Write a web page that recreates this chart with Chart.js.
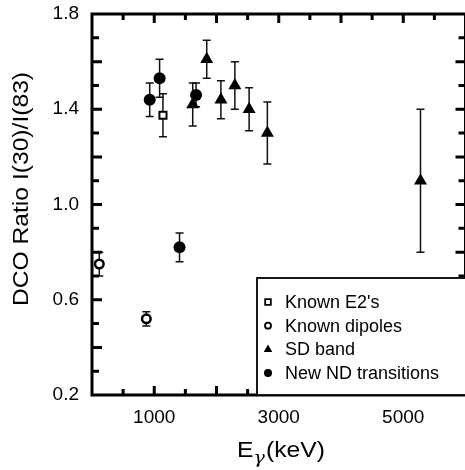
<!DOCTYPE html>
<html>
<head>
<meta charset="utf-8">
<script src="https://cdn.jsdelivr.net/npm/chart.js@4/dist/chart.umd.min.js"></script>
<style>
  html, body { margin: 0; padding: 0; background: #fff; overflow: hidden; }
  canvas { display: block; }
</style>
</head>
<body>
<canvas id="dcoChart" width="473" height="470"></canvas>
<script>
// data
var e2Energy = [1140];
var e2Ratio = [1.375];
var e2Err = [0.09];

var dipoleEnergy = [117, 873];
var dipoleRatio = [0.75, 0.52];
var dipoleErr = [0.05, 0.03];

var sdEnergy = [1618, 1843, 2071, 2295, 2524, 2817, 5277];
var sdRatio = [1.42, 1.61, 1.44, 1.50, 1.40, 1.30, 1.10];
var sdErr = [0.09, 0.08, 0.08, 0.10, 0.09, 0.13, 0.30];

var ndEnergy = [927, 1086, 1406, 1672];
var ndRatio = [1.44, 1.53, 0.82, 1.46];
var ndErr = [0.07, 0.08, 0.06, 0.05];

var yLabelTicks = [0.2, 0.6, 1.0, 1.4, 1.8];
var xLabelTicks = [1000, 3000, 5000];

function toPoints(xs, ys) {
    return xs.map(function (x, i) { return { x: x, y: ys[i] }; });
}

var FONT = '"Liberation Sans", Arial, Helvetica, sans-serif';
Chart.defaults.font.family = FONT;
Chart.defaults.color = '#000';

var ctx = document.getElementById('dcoChart').getContext('2d');

var chartData = {
    datasets: [
        {
            label: "Known E2's",
            data: toPoints(e2Energy, e2Ratio),
            errors: e2Err,
            pointStyle: 'rect',
            pointRadius: 5,
            borderWidth: 2,
            borderColor: '#000',
            backgroundColor: '#fff',
            legendRadius: 4
        },
        {
            label: 'Known dipoles',
            data: toPoints(dipoleEnergy, dipoleRatio),
            errors: dipoleErr,
            pointStyle: 'circle',
            pointRadius: 4.3,
            borderWidth: 2.5,
            borderColor: '#000',
            backgroundColor: '#fff',
            legendRadius: 3
        },
        {
            label: 'SD band',
            data: toPoints(sdEnergy, sdRatio),
            errors: sdErr,
            pointStyle: 'triangle',
            pointRadius: 7.5,
            borderWidth: 0,
            borderColor: '#000',
            backgroundColor: '#000',
            legendRadius: 5
        },
        {
            label: 'New ND transitions',
            data: toPoints(ndEnergy, ndRatio),
            errors: ndErr,
            pointStyle: 'circle',
            pointRadius: 6,
            borderWidth: 0,
            borderColor: '#000',
            backgroundColor: '#000',
            legendRadius: 4
        }
    ]
};

// error bars, drawn under the markers
var errorBars = {
    id: 'errorBars',
    beforeDatasetsDraw: function (chart) {
        var c = chart.ctx;
        var ys = chart.scales.y;
        c.save();
        c.strokeStyle = '#111';
        c.lineWidth = 1.5;
        chart.data.datasets.forEach(function (ds, di) {
            var meta = chart.getDatasetMeta(di);
            meta.data.forEach(function (pt, i) {
                var v = ds.data[i].y, e = ds.errors[i];
                var top = ys.getPixelForValue(v + e);
                var bot = ys.getPixelForValue(v - e);
                c.beginPath();
                c.moveTo(pt.x, top); c.lineTo(pt.x, bot);
                c.moveTo(pt.x - 4, top); c.lineTo(pt.x + 4, top);
                c.moveTo(pt.x - 4, bot); c.lineTo(pt.x + 4, bot);
                c.stroke();
            });
        });
        c.restore();
    }
};

// thick box with ticks pointing inwards on all four sides
var frame = {
    id: 'frame',
    afterDatasetsDraw: function (chart) {
        var c = chart.ctx, a = chart.chartArea;
        var xs = chart.scales.x, ys = chart.scales.y;
        c.save();
        c.strokeStyle = '#000';
        c.lineWidth = 3;
        c.beginPath();
        xs.ticks.forEach(function (t) {
            if (t.value <= xs.min || t.value >= xs.max) return;
            var px = xs.getPixelForValue(t.value);
            var len = t.value % 1000 === 0 ? 9 : 6;
            c.moveTo(px, a.bottom); c.lineTo(px, a.bottom - len);
            c.moveTo(px, a.top); c.lineTo(px, a.top + len);
        });
        ys.ticks.forEach(function (t) {
            if (t.value <= ys.min + 1e-6 || t.value >= ys.max - 1e-6) return;
            var py = ys.getPixelForValue(t.value);
            var len = Math.round(t.value * 10) % 2 === 0 ? 10 : 7;
            c.moveTo(a.left, py); c.lineTo(a.left + len, py);
            c.moveTo(a.right, py); c.lineTo(a.right - len, py);
        });
        c.stroke();
        c.strokeRect(a.left, a.top, a.right - a.left, a.bottom - a.top);
        c.restore();
    }
};

// legend box in the lower right corner of the plot
var boxLegend = {
    id: 'boxLegend',
    afterDraw: function (chart) {
        var c = chart.ctx, a = chart.chartArea;
        var left = 257, top = 278;
        c.save();
        c.fillStyle = '#fff';
        c.fillRect(left, top, a.right - left, a.bottom - top);
        c.strokeStyle = '#000';
        c.lineWidth = 1.8;
        c.strokeRect(left, top, a.right - left + 5, a.bottom - top);
        c.font = '18px ' + FONT;
        c.textBaseline = 'middle';
        chart.data.datasets.forEach(function (ds, i) {
            var y = top + 24 + i * 23.7;
            c.fillStyle = ds.backgroundColor;
            c.strokeStyle = ds.borderColor;
            Chart.helpers.drawPoint(c, {
                pointStyle: ds.pointStyle,
                radius: ds.legendRadius,
                borderWidth: ds.borderWidth ? 2 : 0,
                rotation: 0
            }, 268, y);
            c.fillStyle = '#000';
            c.fillText(ds.label, 285, y + 1);
        });
        c.restore();
    }
};

// axis titles (x title needs a subscript gamma)
var axisTitles = {
    id: 'axisTitles',
    afterDraw: function (chart) {
        var c = chart.ctx;
        c.save();
        c.fillStyle = '#000';
        c.translate(28, 189);
        c.rotate(-Math.PI / 2);
        c.scale(1.12, 1);
        c.font = '22px ' + FONT;
        c.textAlign = 'center';
        c.textBaseline = 'alphabetic';
        c.fillText('DCO Ratio I(30)/I(83)', 0, 0);
        c.restore();

        c.save();
        c.fillStyle = '#000';
        c.textBaseline = 'alphabetic';
        var big = '22px ' + FONT;
        var small = 'italic 17px "DejaVu Serif", serif';
        c.font = big;
        var wE = c.measureText('E').width;
        var wK = c.measureText('(keV)').width;
        c.font = small;
        var wG = c.measureText('\u03b3').width;
        var sx = 1.12;
        var total = (wE + wG + wK + 1) * sx;
        c.translate(281 - total / 2, 457);
        c.scale(sx, 1);
        c.font = big;
        c.fillText('E', 0, 0);
        c.font = small;
        c.fillText('\u03b3', wE, 6);
        c.font = big;
        c.fillText('(keV)', wE + wG + 1, 0);
        c.restore();
    }
};

var chartOptions = {
    responsive: false,
    animation: false,
    devicePixelRatio: 1,
    layout: { padding: { top: 14, right: 0, left: 0, bottom: 0 } },
    plugins: {
        legend: { display: false },
        tooltip: { enabled: false }
    },
    scales: {
        x: {
            type: 'linear',
            min: 0,
            max: 6000,
            grid: { display: false, drawTicks: false },
            border: { display: false },
            ticks: {
                stepSize: 500,
                autoSkip: false,
                maxRotation: 0,
                padding: 11,
                color: '#000',
                font: { family: FONT, size: 19 },
                callback: function (v) {
                    return xLabelTicks.indexOf(v) >= 0 ? String(v) : '';
                }
            },
            afterFit: function (s) { s.height = 75; s.paddingLeft = 0; s.paddingRight = 0; }
        },
        y: {
            type: 'linear',
            min: 0.2,
            max: 1.8,
            grid: { display: false, drawTicks: false },
            border: { display: false },
            ticks: {
                stepSize: 0.1,
                autoSkip: false,
                padding: 13,
                color: '#000',
                font: { family: FONT, size: 19 },
                callback: function (v) {
                    var hit = yLabelTicks.some(function (t) { return Math.abs(t - v) < 1e-6; });
                    return hit ? v.toFixed(1) : '';
                }
            },
            afterFit: function (s) { s.width = 92; s.paddingTop = 0; s.paddingBottom = 0; }
        }
    }
};

var dcoChart = new Chart(ctx, {
    type: 'scatter',
    data: chartData,
    options: chartOptions,
    plugins: [errorBars, frame, boxLegend, axisTitles]
});
</script>
</body>
</html>
